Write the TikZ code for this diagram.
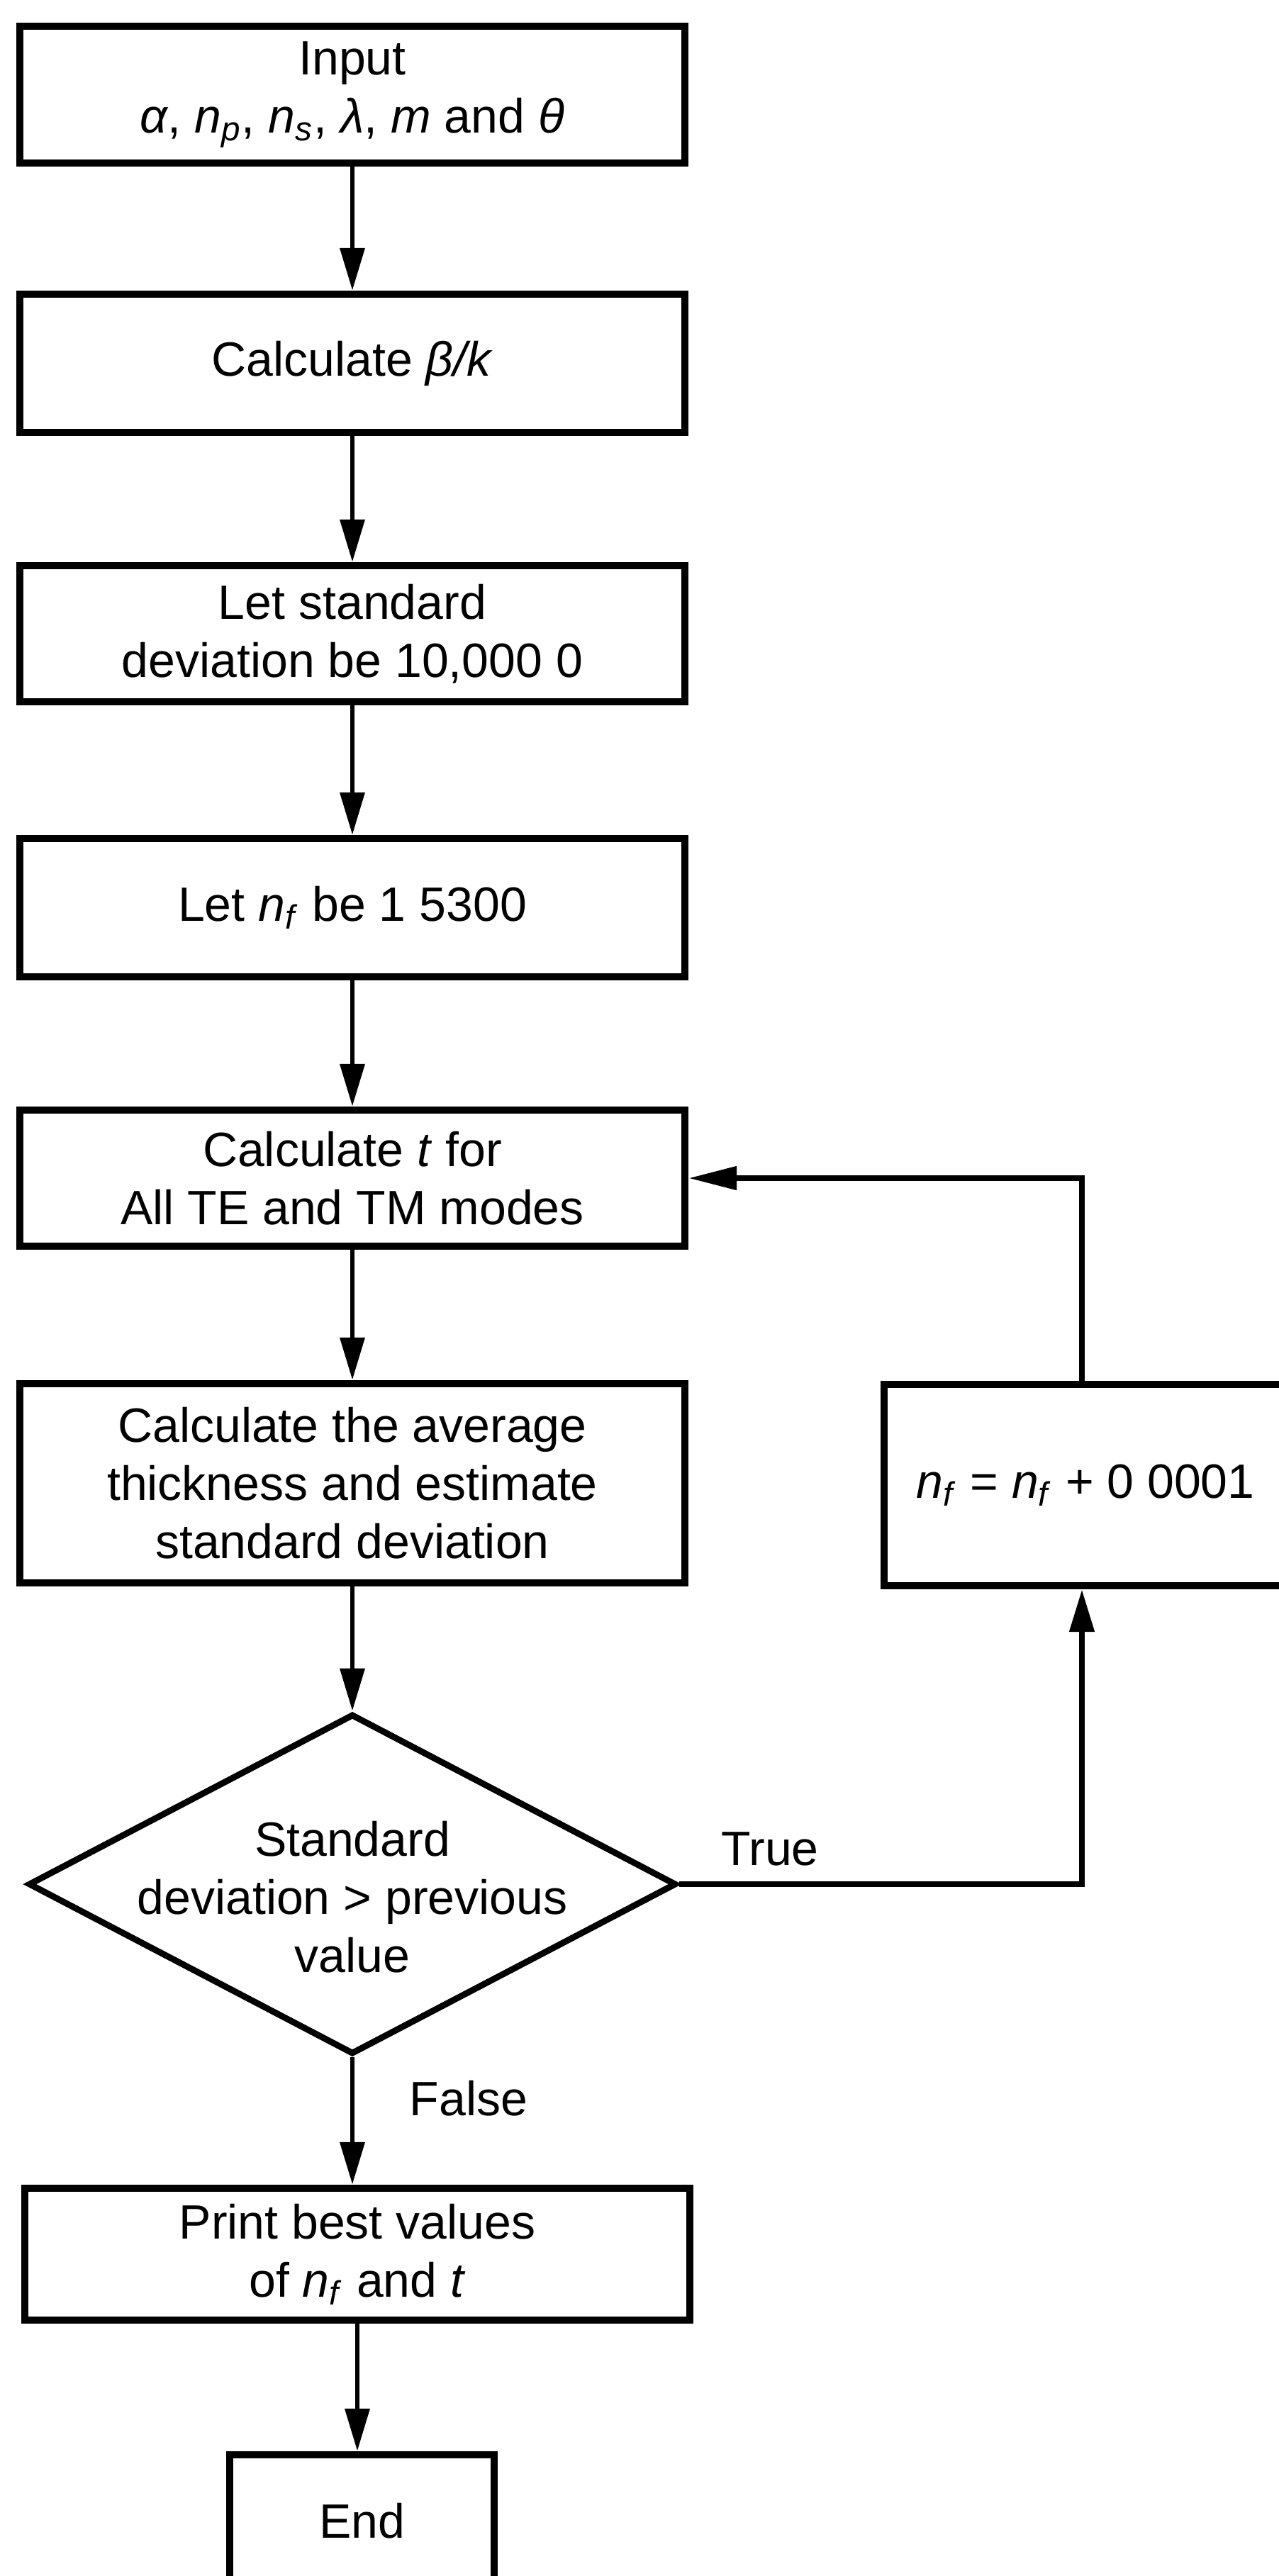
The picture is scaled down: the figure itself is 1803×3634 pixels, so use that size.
\documentclass[tikz,border=0pt]{standalone}
\usepackage{fontspec}
\setmainfont{Liberation Sans}
\usetikzlibrary{arrows.meta,shapes.geometric}
% italic refractive-index symbol n with an italic subscript
\newcommand\nsub[1]{\textit{n}\textsubscript{\textit{#1}}}

\begin{document}
\begin{tikzpicture}[x=0.25pt,y=-0.25pt,
  every node/.style={font=\fontsize{17}{20.5}\selectfont, align=center, text=black},
  procbox/.style={draw, rectangle, line width=2.6pt, inner sep=0pt, minimum width=234.5pt},
  decision/.style={draw, diamond, line width=2.2pt, inner sep=0pt},
  flow/.style={line width=1.7pt, -{Triangle[length=15pt,width=8.5pt]}},
  flowside/.style={line width=2pt, -{Triangle[length=17pt,width=8pt]}},
]
\useasboundingbox[fill=white] (0,0) rectangle (1803,3634);

% main column of steps
\node[procbox, minimum height=48.25pt] (input) at (497,133.5)
  {Input\\ \textit{α}, \nsub{p}, \nsub{s}, \textit{λ}, \textit{m} and \textit{θ}};
\node[procbox, minimum height=48.75pt] (beta) at (497,512.5) {Calculate \textit{β/k}};
\node[procbox, minimum height=48pt] (sdinit) at (497,894) {Let standard\\deviation be 10,000 0};
\node[procbox, minimum height=48.75pt] (nfinit) at (497,1280.5) {Let \nsub{f} be 1 5300};
\node[procbox, minimum height=48pt] (calct) at (497,1662) {Calculate \textit{t} for\\All TE and TM modes};
\node[procbox, minimum height=70.25pt] (avg) at (497,2092.5)
  {Calculate the average\\thickness and estimate\\standard deviation};

% increment step on the loop
\node[procbox, minimum width=142pt, minimum height=71pt] (incr) at (1531,2095)
  {\nsub{f} = \nsub{f} + 0 0001};

% decision
\node[decision, minimum width=228.5pt, minimum height=120pt] (test) at (497,2658) {};
\node (testtxt) at (497,2676) {Standard\\deviation > previous\\value};

\node[procbox, minimum height=46.5pt] (report) at (504,3180) {Print best values\\of \nsub{f} and \textit{t}};
\node[procbox, minimum width=93.25pt, minimum height=46.75pt] (stop) at (510.5,3556.5) {End};

% branch labels
\node (truelbl) at (1086,2608) {True};
\node (falselbl) at (661,2960) {False};

% connectors down the main column
\draw[flow] (input.south) -- (input.south |- beta.north);
\draw[flow] (beta.south) -- (beta.south |- sdinit.north);
\draw[flow] (sdinit.south) -- (sdinit.south |- nfinit.north);
\draw[flow] (nfinit.south) -- (nfinit.south |- calct.north);
\draw[flow] (calct.south) -- (calct.south |- avg.north);
\draw[flow] (avg.south) -- (test.north);
\draw[flow] (test.south) -- (test.south |- report.north);
\draw[flow] (report.south) -- (report.south |- stop.north);

% loop back through the increment step
\coordinate (loopx) at (1526,0);
\draw[flow, line width=2pt] (test.east) -- (test.east -| loopx) -- (loopx |- incr.south);
\draw[flowside] (loopx |- incr.north) -- (loopx |- calct.east) -- (calct.east);
\end{tikzpicture}
\end{document}
